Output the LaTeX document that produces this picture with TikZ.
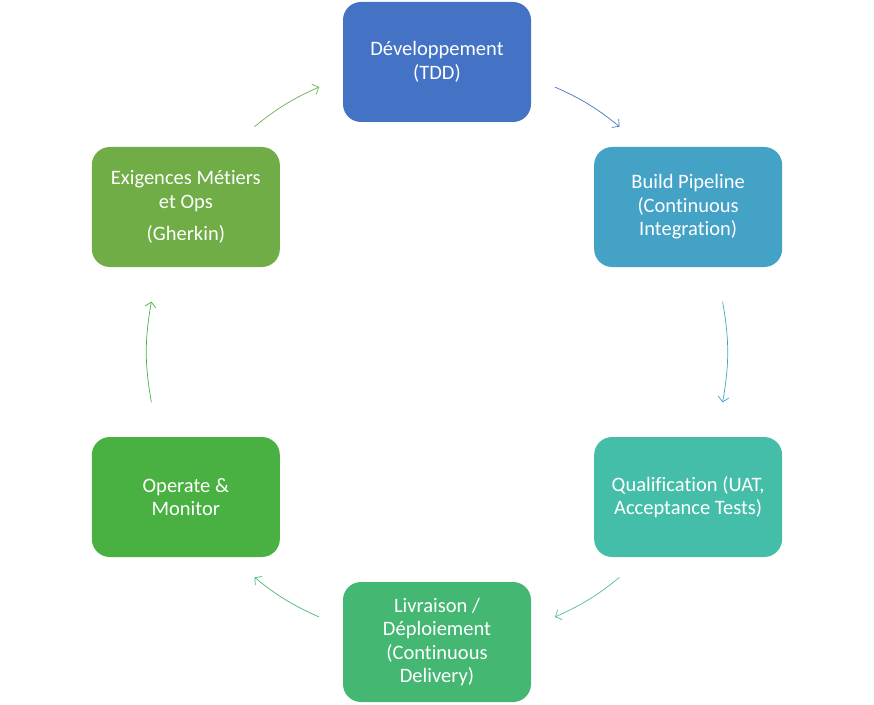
\documentclass[tikz,border=0pt]{standalone}
\usepackage{fontspec}
\setmainfont{Carlito}[Ligatures={NoCommon}]
\usetikzlibrary{arrows.meta}
\definecolor{devblue}{HTML}{4472C4}
\definecolor{buildblue}{HTML}{43A2C6}
\definecolor{qualteal}{HTML}{45BEA9}
\definecolor{livgreen}{HTML}{44B873}
\definecolor{opgreen}{HTML}{48B142}
\definecolor{exigreen}{HTML}{70AD47}
\tikzset{
	phase/.style={rounded corners=18pt, minimum width=188pt, minimum height=120pt, inner sep=0pt, text=white, align=center, font=\fontsize{20.5}{23.5}\selectfont},
	flow/.style={-{Straight Barb[length=5pt,width=11pt]}, line width=0.7pt},
}

\begin{document}
\begin{tikzpicture}[x=1pt, y=1pt]
			%%%%% START %%%%%
			\useasboundingbox (-437, -352) rectangle (437, 352);
			
			\node[phase, fill=devblue] (dev) at (90:290pt) {Développement\\(TDD)};
			\node[phase, fill=buildblue] (build) at (30:290pt) {Build Pipeline\\(Continuous\\Integration)};
			\node[phase, fill=qualteal] (qual) at (-30:290pt) {Qualification (UAT,\\Acceptance Tests)};
			\node[phase, fill=livgreen] (liv) at (-90:290pt) {Livraison /\\Déploiement\\(Continuous\\Delivery)};
			\node[phase, fill=opgreen] (op) at (210:290pt) {Operate \&\\Monitor};
			\node[phase, fill=exigreen] (exi) at (150:290pt) {Exigences Métiers\\et Ops\\[9pt](Gherkin)};
			
			\coordinate (devout) at (66:290pt);
			\coordinate (buildin) at (51:290pt);
			\coordinate (buildout) at (10:290pt);
			\coordinate (qualin) at (-10:290pt);
			\coordinate (qualout) at (-51:290pt);
			\coordinate (livin) at (-66:290pt);
			\coordinate (livout) at (-114:290pt);
			\coordinate (opin) at (-129:290pt);
			\coordinate (opout) at (190:290pt);
			\coordinate (exiin) at (170:290pt);
			\coordinate (exiout) at (129:290pt);
			\coordinate (devin) at (114:290pt);
			
			\draw[flow, devblue] (devout) to[bend left=7.5] (buildin);
			\draw[flow, buildblue] (buildout) to[bend left=10] (qualin);
			\draw[flow, qualteal] (qualout) to[bend left=7.5] (livin);
			\draw[flow, livgreen] (livout) to[bend left=7.5] (opin);
			\draw[flow, opgreen] (opout) to[bend left=10] (exiin);
			\draw[flow, exigreen] (exiout) to[bend left=7.5] (devin);
			
			%%%%% END %%%%%
\end{tikzpicture}
\end{document}
